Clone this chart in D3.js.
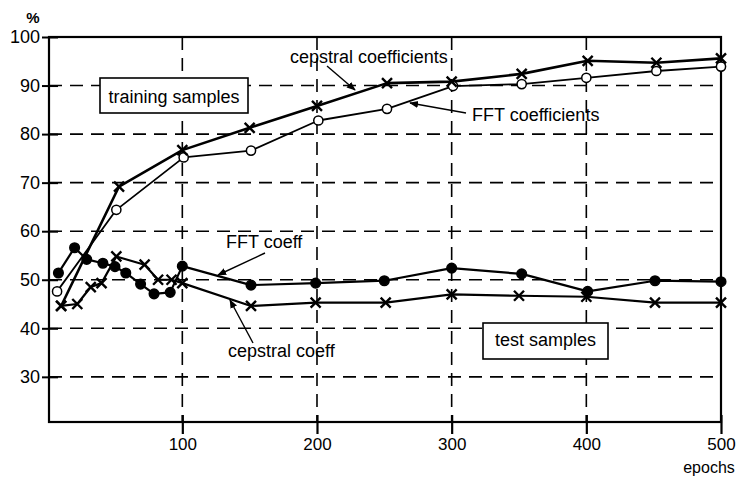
<!DOCTYPE html>
<html>
<head>
<meta charset="utf-8">
<script src="https://cdn.jsdelivr.net/npm/d3@7"></script>
<style>
  body { margin: 0; background: #fff; }
  text { font-family: "Liberation Sans", Arial, Helvetica, sans-serif; fill: #000; }
</style>
</head>
<body>
<div id="svg-container"></div>
<script>
// epochs on x, recognition rate (%) on y
const trainCepX = [10, 53, 100, 150, 200, 252, 300, 352, 401, 452, 500];
const trainCepY = [44.6, 69.2, 76.7, 81.3, 85.8, 90.5, 90.8, 92.4, 95.1, 94.7, 95.6];

const trainFftX = [7, 51, 101, 151, 201, 252, 301, 352, 400, 452, 500];
const trainFftY = [47.6, 64.4, 75.2, 76.6, 82.8, 85.2, 89.9, 90.3, 91.6, 93.0, 93.9];

const testFftX = [8, 20, 29, 41, 50, 58, 69, 79, 91, 100, 151, 199, 250, 300, 352, 401, 451, 500];
const testFftY = [51.4, 56.6, 54.2, 53.4, 52.7, 51.4, 49.1, 47.1, 47.4, 52.8, 48.9, 49.3, 49.8, 52.4, 51.2, 47.6, 49.8, 49.6];

const testCepX = [10, 22, 32, 40, 51, 72, 82, 92, 100, 151, 199, 251, 300, 350, 400, 451, 500];
const testCepY = [44.6, 45.0, 48.5, 49.3, 54.8, 53.1, 50.0, 50.0, 49.3, 44.6, 45.3, 45.3, 47.0, 46.7, 46.5, 45.3, 45.3];

const xTicks = [100, 200, 300, 400, 500];
const yTicks = [30, 40, 50, 60, 70, 80, 90, 100];

const width = 740, height = 477;
const plotL = 49, plotR = 721, plotT = 37, plotB = 422;

const svg = d3.select("#svg-container").append("svg")
    .attr("width", width)
    .attr("height", height);

const x = d3.scaleLinear().domain([1, 500]).range([plotL, plotR]);
const y = d3.scaleLinear().domain([20.7, 100]).range([plotB, plotT]);

// dashed grid
svg.append("g").selectAll("line")
    .data(yTicks.filter(d => d < 100))
    .enter().append("line")
    .attr("x1", plotL).attr("x2", plotR)
    .attr("y1", d => y(d)).attr("y2", d => y(d))
    .attr("stroke", "#000").attr("stroke-width", 1.6)
    .attr("stroke-dasharray", "13,8");

svg.append("g").selectAll("line")
    .data(xTicks.filter(d => d < 500))
    .enter().append("line")
    .attr("x1", d => x(d)).attr("x2", d => x(d))
    .attr("y1", plotT).attr("y2", plotB)
    .attr("stroke", "#000").attr("stroke-width", 1.6)
    .attr("stroke-dasharray", "13,8");

// frame
svg.append("rect")
    .attr("x", plotL).attr("y", plotT)
    .attr("width", plotR - plotL).attr("height", plotB - plotT)
    .attr("fill", "none").attr("stroke", "#000").attr("stroke-width", 2.2);

// axes
const yAxis = d3.axisLeft(y).tickValues(yTicks).tickSize(7).tickPadding(4);
const gy = svg.append("g").attr("transform", `translate(${plotL},0)`).call(yAxis);
gy.select(".domain").remove();
gy.selectAll(".tick line").attr("x2", 9).attr("x1", -7).attr("stroke-width", 2);
gy.selectAll(".tick text")
    .attr("x", -9)
    .style("font-size", "18px")
    .style("font-family", "'Liberation Sans', Arial, sans-serif");

const xAxis = d3.axisBottom(x).tickValues(xTicks).tickSize(12).tickPadding(4);
const gx = svg.append("g").attr("transform", `translate(0,${plotB})`).call(xAxis);
gx.select(".domain").remove();
gx.selectAll(".tick line").attr("y1", -7).attr("stroke-width", 2.2);
gx.selectAll(".tick text")
    .style("font-size", "17px")
    .style("font-family", "'Liberation Sans', Arial, sans-serif");

svg.append("text").attr("x", 33).attr("y", 23)
    .attr("text-anchor", "middle")
    .style("font-size", "15px").style("font-weight", "bold")
    .text("%");

svg.append("text").attr("x", 709).attr("y", 473)
    .attr("text-anchor", "middle")
    .style("font-size", "16px")
    .text("epochs");

// series
const series = [
    { xs: trainFftX, ys: trainFftY, mark: "open", w: 1.8 },
    { xs: trainCepX, ys: trainCepY, mark: "cross", w: 2.6 },
    { xs: testCepX, ys: testCepY, mark: "cross", w: 2.2 },
    { xs: testFftX, ys: testFftY, mark: "dot", w: 2.2 }
];

const line = d3.line().x(d => x(d[0])).y(d => y(d[1]));

series.forEach(s => {
    const pts = s.xs.map((v, i) => [v, s.ys[i]]);
    svg.append("path")
        .datum(pts)
        .attr("d", line)
        .attr("fill", "none")
        .attr("stroke", "#000")
        .attr("stroke-width", s.w)
        .attr("stroke-linejoin", "round");
    s.pts = pts;
});

series.forEach(s => {
    const g = svg.append("g");
    if (s.mark === "cross") {
        g.selectAll("path").data(s.pts).enter().append("path")
            .attr("d", d => {
                const cx = x(d[0]), cy = y(d[1]), r = 5;
                return `M${cx - r},${cy - r}L${cx + r},${cy + r}M${cx - r},${cy + r}L${cx + r},${cy - r}`;
            })
            .attr("stroke", "#000").attr("stroke-width", 2.4);
    } else {
        g.selectAll("circle").data(s.pts).enter().append("circle")
            .attr("cx", d => x(d[0])).attr("cy", d => y(d[1]))
            .attr("r", s.mark === "open" ? 4.6 : 4.8)
            .attr("fill", s.mark === "open" ? "#fff" : "#000")
            .attr("stroke", "#000").attr("stroke-width", 1.5);
    }
});

// labels with boxes
const boxes = [
    { text: "training samples", x: 100, y: 78, w: 148, h: 35, base: 103 },
    { text: "test samples", x: 483, y: 323, w: 125, h: 36, base: 346 }
];
boxes.forEach(b => {
    svg.append("rect").attr("x", b.x).attr("y", b.y)
        .attr("width", b.w).attr("height", b.h)
        .attr("fill", "#fff").attr("stroke", "#000").attr("stroke-width", 1.6);
    svg.append("text").attr("x", b.x + b.w / 2).attr("y", b.base)
        .attr("text-anchor", "middle").style("font-size", "18px")
        .text(b.text);
});

// arrow annotations
svg.append("defs").append("marker")
    .attr("id", "arrow")
    .attr("viewBox", "0 0 10 10")
    .attr("refX", 9).attr("refY", 5)
    .attr("markerWidth", 9).attr("markerHeight", 9)
    .attr("markerUnits", "userSpaceOnUse")
    .attr("orient", "auto")
    .append("path").attr("d", "M0,1L10,5L0,9Z").attr("fill", "#000");

const notes = [
    { text: "cepstral coefficients", tx: 290, ty: 63, x1: 327, y1: 66, x2: 355, y2: 90 },
    { text: "FFT coefficients", tx: 472, ty: 121, x1: 466, y1: 113, x2: 410, y2: 103 },
    { text: "FFT coeff", tx: 226, ty: 248, x1: 265, y1: 253, x2: 218, y2: 275 },
    { text: "cepstral coeff", tx: 228, ty: 357, x1: 253, y1: 343, x2: 230, y2: 300 }
];
notes.forEach(n => {
    svg.append("line")
        .attr("x1", n.x1).attr("y1", n.y1).attr("x2", n.x2).attr("y2", n.y2)
        .attr("stroke", "#000").attr("stroke-width", 1.4)
        .attr("marker-end", "url(#arrow)");
    svg.append("text").attr("x", n.tx).attr("y", n.ty)
        .style("font-size", "18px")
        .text(n.text);
});
</script>
</body>
</html>
